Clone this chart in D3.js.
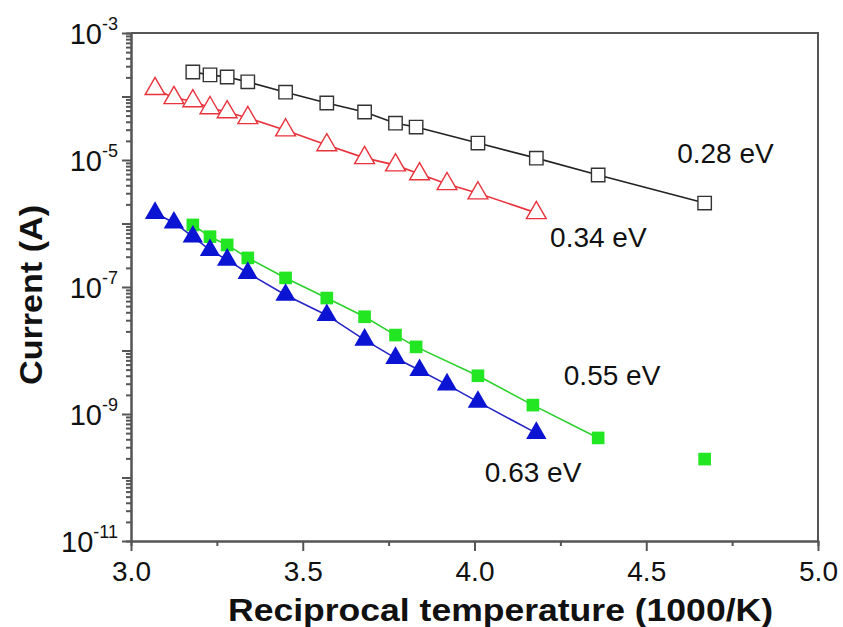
<!DOCTYPE html>
<html lang="en">
<head>
<meta charset="UTF-8">
<title>Current vs reciprocal temperature</title>
<script src="https://d3js.org/d3.v7.min.js"></script>
<style>
  body { margin: 0; background: #fff; }
  svg { display: block; }
  text { font-family: "Liberation Sans", Arial, sans-serif; fill: #111; }
  .axis path, .axis line { stroke: #555; stroke-width: 2; }
  .axis text { font-size: 28px; fill: #111; }
  .title { font-weight: bold; font-size: 32px; }
  .elabel { font-size: 28px; }
</style>
</head>
<body>
<svg></svg>
<script>
// === Data ===
const blackX = [3.18, 3.23, 3.28, 3.34, 3.45, 3.57, 3.68, 3.77, 3.83, 4.01, 4.18, 4.36, 4.67];
const blackI = [2.43e-4, 2.19e-4, 2.03e-4, 1.7e-4, 1.17e-4, 7.9e-5, 5.7e-5, 3.8e-5, 3.3e-5, 1.85e-5, 1.07e-5, 5.8e-6, 2.1e-6];

const redX = [3.07, 3.125, 3.18, 3.23, 3.28, 3.34, 3.45, 3.57, 3.68, 3.77, 3.84, 3.92, 4.01, 4.18];
const redI = [1.32e-4, 9.5e-5, 8.5e-5, 6.6e-5, 5.7e-5, 4.6e-5, 2.95e-5, 1.72e-5, 1.08e-5, 8.3e-6, 6.0e-6, 4.2e-6, 3.0e-6, 1.47e-6];

const blueX = [3.07, 3.125, 3.18, 3.23, 3.28, 3.34, 3.45, 3.57, 3.68, 3.77, 3.84, 3.92, 4.01, 4.18];
const blueI = [1.46e-6, 1.03e-6, 6.2e-7, 3.8e-7, 2.68e-7, 1.66e-7, 7.5e-8, 3.6e-8, 1.47e-8, 7.6e-9, 4.9e-9, 2.9e-9, 1.55e-9, 5.0e-10];

const greenX = [3.18, 3.23, 3.28, 3.34, 3.45, 3.57, 3.68, 3.77, 3.83, 4.01, 4.17, 4.36];
const greenI = [9.5e-7, 6.2e-7, 4.6e-7, 2.87e-7, 1.39e-7, 6.7e-8, 3.4e-8, 1.75e-8, 1.14e-8, 4.0e-9, 1.38e-9, 4.2e-10];
const greenLoneX = [4.67];
const greenLoneI = [1.95e-10];

const energyText = ["0.28 eV", "0.34 eV", "0.55 eV", "0.63 eV"];
const energyX = [4.59, 4.22, 4.26, 4.03];
const energyI = [9.0e-6, 4.3e-7, 2.9e-9, 8.5e-11];

const xTicks = [3.0, 3.5, 4.0, 4.5, 5.0];
const xMinor = [3.25, 3.75, 4.25, 4.75];
const yExp = [-3, -4, -5, -6, -7, -8, -9, -10, -11];
const yLabelExp = [-3, -5, -7, -9, -11];

// === Layout ===
const W = 843, H = 627;
const margin = { top: 33, right: 25, bottom: 86, left: 131 };
const iw = W - margin.left - margin.right;
const ih = H - margin.top - margin.bottom;

const svg = d3.select("svg").attr("width", W).attr("height", H);
const g = svg.append("g").attr("transform", `translate(${margin.left},${margin.top})`);

const x = d3.scaleLinear().domain([3, 5]).range([0, iw]);
const y = d3.scaleLog().domain([1e-11, 1e-3]).range([ih, 0]);

// minor log ticks
const yMinor = [];
yExp.slice(1).forEach(e => {
  for (let k = 2; k <= 9; k++) yMinor.push(k * Math.pow(10, e));
});

// === Axes ===
g.append("g").attr("class", "axis")
  .attr("transform", `translate(0,${ih})`)
  .call(d3.axisBottom(x).tickValues(xMinor).tickSize(5).tickFormat(""));
g.append("g").attr("class", "axis")
  .attr("transform", `translate(0,${ih})`)
  .call(d3.axisBottom(x).tickValues(xTicks).tickSize(10).tickSizeOuter(0).tickPadding(10).tickFormat(d3.format(".1f")));

g.append("g").attr("class", "axis")
  .call(d3.axisLeft(y).tickValues(yMinor).tickSize(5).tickFormat(""));
g.append("g").attr("class", "axis")
  .call(d3.axisLeft(y).tickValues(yExp.map(e => Math.pow(10, e))).tickSize(9).tickSizeOuter(0).tickFormat(""));

// frame (top/right)
g.append("path")
  .attr("d", `M0,0H${iw}V${ih}`)
  .attr("fill", "none").attr("stroke", "#555").attr("stroke-width", 2);

// y labels 10^n
const yl = g.append("g").selectAll("text").data(yLabelExp).join("text")
  .attr("x", -13)
  .attr("y", d => y(Math.pow(10, d)) + 11)
  .attr("text-anchor", "end")
  .style("font-size", "29px");
yl.append("tspan").text("10");
yl.append("tspan").attr("dy", -14).style("font-size", "18px").text(d => "-" + Math.abs(d));

// axis titles
svg.append("text").attr("class", "title")
  .attr("x", 228).attr("y", 621)
  .attr("textLength", 545).attr("lengthAdjust", "spacingAndGlyphs")
  .text("Reciprocal temperature (1000/K)");
svg.append("text").attr("class", "title")
  .attr("transform", `translate(42,385) rotate(-90)`)
  .attr("textLength", 180).attr("lengthAdjust", "spacingAndGlyphs")
  .text("Current (A)");

// === Series ===
const line = d3.line().x(d => x(d[0])).y(d => y(d[1]));
const zip = (a, b) => a.map((v, i) => [v, b[i]]);

const series = [
  { pts: zip(blackX, blackI), color: "#222", shape: d3.symbolSquare, size: 180, fill: "#fff", stroke: "#333" },
  { pts: zip(redX, redI), color: "#e8323c", shape: d3.symbolTriangle, size: 170, fill: "#fff", stroke: "#e8323c" },
  { pts: zip(greenX, greenI), color: "#2bd12b", shape: d3.symbolSquare, size: 160, fill: "#22e622", stroke: "none" },
  { pts: zip(blueX, blueI), color: "#2424c8", shape: d3.symbolTriangle, size: 180, fill: "#0a14d2", stroke: "none" }
];

series.forEach(s => {
  g.append("path").datum(s.pts)
    .attr("d", line)
    .attr("fill", "none")
    .attr("stroke", s.color)
    .attr("stroke-width", 1.6);
});

series.forEach(s => {
  g.append("g").selectAll("path").data(s.pts).join("path")
    .attr("transform", d => `translate(${x(d[0])},${y(d[1])})`)
    .attr("d", d3.symbol().type(s.shape).size(s.size))
    .attr("fill", s.fill)
    .attr("stroke", s.stroke)
    .attr("stroke-width", 1.4);
});

// lone green point (not on the fit)
g.append("g").selectAll("path").data(zip(greenLoneX, greenLoneI)).join("path")
  .attr("transform", d => `translate(${x(d[0])},${y(d[1])})`)
  .attr("d", d3.symbol().type(d3.symbolSquare).size(160))
  .attr("fill", "#22e622");

// activation energy labels
g.append("g").selectAll("text").data(energyText).join("text")
  .attr("class", "elabel")
  .attr("x", (d, i) => x(energyX[i]))
  .attr("y", (d, i) => y(energyI[i]))
  .text(d => d);
</script>
</body>
</html>
